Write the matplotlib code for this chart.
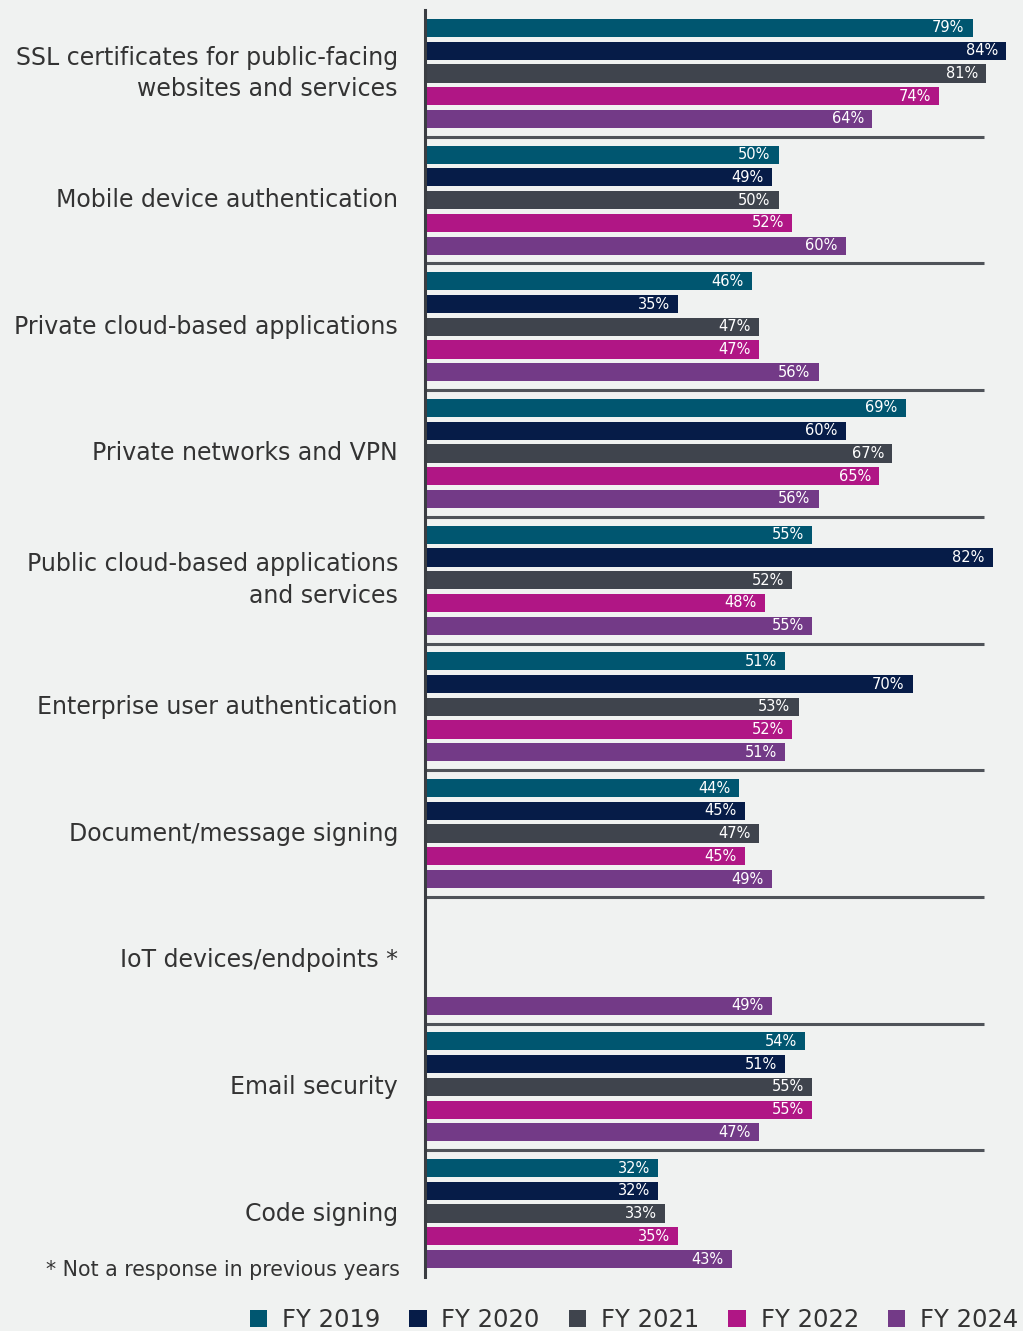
import matplotlib
matplotlib.use("Agg")
import matplotlib.pyplot as plt
from matplotlib.patches import Patch

categories = [
    "SSL certificates for public-facing\nwebsites and services",
    "Mobile device authentication",
    "Private cloud-based applications",
    "Private networks and VPN",
    "Public cloud-based applications\nand services",
    "Enterprise user authentication",
    "Document/message signing",
    "IoT devices/endpoints *",
    "Email security",
    "Code signing",
]
years = ["FY 2019", "FY 2020", "FY 2021", "FY 2022", "FY 2024"]
fy2019 = [79, 50, 46, 69, 55, 51, 44, None, 54, 32]
fy2020 = [84, 49, 35, 60, 82, 70, 45, None, 51, 32]
fy2021 = [81, 50, 47, 67, 52, 53, 47, None, 55, 33]
fy2022 = [74, 52, 47, 65, 48, 52, 45, None, 55, 35]
fy2024 = [64, 60, 56, 56, 55, 51, 49, 49, 47, 43]
footnote = "* Not a response in previous years"

colors = ["#005670", "#061c48", "#3f444d", "#b01685", "#733a87"]
bg = "#f0f2f1"
text_color = "#333333"

plt.rcParams["font.family"] = ["DejaVu Sans"]

fig = plt.figure(figsize=(10.23, 13.31), dpi=100, facecolor=bg)
ax = fig.add_axes([425 / 1023, 1 - 1277 / 1331, 598 / 1023, 1267 / 1331])
ax.set_facecolor(bg)

period = 5.57
bar_h = 0.8
base = -2.84
series = [fy2019, fy2020, fy2021, fy2022, fy2024]

for j, (vals, col) in enumerate(zip(series, colors)):
    for g, v in enumerate(vals):
        if v is None:
            continue
        y = g * period + j
        ax.barh(y, v - base, left=base, height=bar_h, color=col)
        ax.annotate(f"{v}%", (v, y), xytext=(-6, 0), textcoords="offset points",
                    ha="right", va="center", color="white", fontsize=10.5)

# group separators
for g in range(1, len(categories)):
    ys = g * period - 0.785
    ax.plot([base, 80.6], [ys, ys], color="#4f5359", lw=2.2, solid_capstyle="butt")

for g, name in enumerate(categories):
    yc = g * period + 2
    ax.annotate(name, (base, yc), xytext=(-19.5, 0), textcoords="offset points",
                ha="right", va="center", fontsize=17, color=text_color,
                linespacing=1.4, annotation_clip=False)

ax.annotate(footnote, (base, (len(categories) - 1) * period + 4.5),
            xytext=(-18, 0), textcoords="offset points", ha="right", va="center",
            fontsize=14.8, color=text_color, annotation_clip=False)

ax.set_xlim(base, 86.5)
ax.set_ylim((len(categories) - 1) * period + 4 + 0.79, -0.79)
for side in ["top", "right", "bottom"]:
    ax.spines[side].set_visible(False)
ax.spines["left"].set_color("#3a3d42")
ax.spines["left"].set_linewidth(2.2)
ax.set_xticks([])
ax.set_yticks([])

handles = [Patch(facecolor=c, edgecolor="none") for c in colors]
fig.legend(handles, years, loc="center", bbox_to_anchor=(634 / 1023, 1 - 1320 / 1331),
           ncol=5, frameon=False, fontsize=17.5, handlelength=0.72, handleheight=0.72,
           handletextpad=0.6, columnspacing=1.2, labelcolor=text_color)

fig.savefig("out.png", dpi=100, facecolor=bg)
